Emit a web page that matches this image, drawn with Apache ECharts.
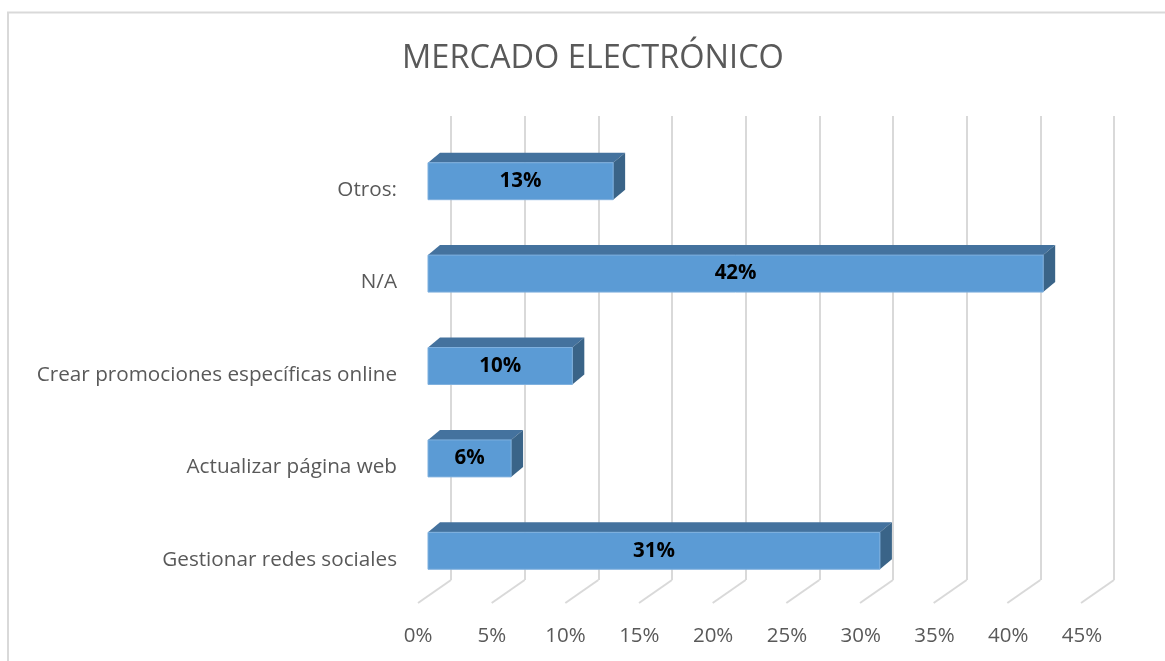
<!DOCTYPE html>
<html>
<head>
<meta charset="utf-8">
<script src="https://cdn.jsdelivr.net/npm/echarts@6/dist/echarts.min.js"></script>
<style>
  html, body { margin: 0; padding: 0; background: #fff; }
  #main { width: 1165px; height: 661px; }
</style>
</head>
<body>
<div id="main"></div>
<script>
// datos (de abajo hacia arriba, como en Excel)
var categories = ['Gestionar redes sociales', 'Actualizar página web', 'Crear promociones específicas online', 'N/A', 'Otros:'];
var values = [31.0, 5.7, 9.9, 42.2, 12.7];
var ticks = [0, 5, 10, 15, 20, 25, 30, 35, 40, 45];

var textColor = '#595959';
var gridColor = '#D9D9D9';
var fontFam = '"Open Sans", "Noto Sans", sans-serif';

// profundidad de la barra y del suelo (px)
var barDx = 12, barDy = 10;
var floorDx = -33, floorDy = 23;

var myChart = echarts.init(document.getElementById('main'));

var barData = values.map(function (v, i) { return [v, i]; });
var tickData = ticks.map(function (t) { return [t, 0]; });

var option = {
  animation: false,
  backgroundColor: '#fff',
  title: {
    text: 'MERCADO ELECTRÓNICO',
    left: 588,
    textAlign: 'center',
    top: 37,
    textStyle: { color: textColor, fontSize: 32.5, fontWeight: 'normal', fontFamily: fontFam }
  },
  graphic: [{
    type: 'rect',
    shape: { x: 8, y: 12.5, width: 1300, height: 800 },
    style: { fill: 'none', stroke: gridColor, lineWidth: 2 },
    silent: true
  }],
  grid: [
    // pared del fondo
    { left: 451, width: 663, top: 116, height: 464 },
    // plano frontal de las barras
    { left: 428, width: 656, top: 135, height: 462 },
    // borde frontal del suelo (etiquetas)
    { left: 418, width: 664, top: 144, height: 462 }
  ],
  xAxis: [
    {
      gridIndex: 0, type: 'value', min: 0, max: 45, interval: 5,
      axisLine: { show: false }, axisTick: { show: false }, axisLabel: { show: false },
      splitLine: { show: true, lineStyle: { color: gridColor, width: 2 } }
    },
    {
      gridIndex: 1, type: 'value', min: 0, max: 45, interval: 5,
      axisLine: { show: false }, axisTick: { show: false }, axisLabel: { show: false },
      splitLine: { show: false }
    },
    {
      gridIndex: 2, type: 'value', min: 0, max: 45, interval: 5,
      axisLine: { show: false }, axisTick: { show: false }, splitLine: { show: false },
      axisLabel: {
        color: textColor, fontSize: 20.5, fontFamily: fontFam, margin: 20,
        formatter: function (v) { return v + '%'; }
      }
    }
  ],
  yAxis: [
    { gridIndex: 0, type: 'category', data: categories, show: false },
    { gridIndex: 1, type: 'category', data: categories, show: false },
    {
      gridIndex: 2, type: 'category', data: categories,
      axisLine: { show: false }, axisTick: { show: false },
      axisLabel: { color: textColor, fontSize: 20.7, fontFamily: fontFam, margin: 21 }
    }
  ],
  series: [
    {
      // líneas del suelo
      type: 'custom',
      xAxisIndex: 0, yAxisIndex: 0,
      data: tickData,
      silent: true,
      renderItem: function (params, api) {
        var p = api.coord([api.value(0), 0]);
        var bottom = params.coordSys.y + params.coordSys.height;
        return {
          type: 'line',
          shape: { x1: p[0], y1: bottom, x2: p[0] + floorDx, y2: bottom + floorDy },
          style: { stroke: gridColor, lineWidth: 2 }
        };
      }
    },
    {
      type: 'custom',
      xAxisIndex: 1, yAxisIndex: 1,
      data: barData,
      encode: { x: 0, y: 1 },
      renderItem: function (params, api) {
        var v = api.value(0);
        var idx = api.value(1);
        var p0 = api.coord([0, idx]);
        var p1 = api.coord([v, idx]);
        var h = api.size([0, 1])[1] * 0.4;
        var x0 = p0[0], x1 = p1[0];
        var yt = p0[1] - h / 2, yb = p0[1] + h / 2;
        return {
          type: 'group',
          children: [
            {
              type: 'polygon',
              shape: { points: [[x0, yt], [x1, yt], [x1 + barDx, yt - barDy], [x0 + barDx, yt - barDy]] },
              style: { fill: '#44729E' }
            },
            {
              type: 'polygon',
              shape: { points: [[x1, yt], [x1 + barDx, yt - barDy], [x1 + barDx, yb - barDy], [x1, yb]] },
              style: { fill: '#3A6488' }
            },
            {
              type: 'rect',
              shape: { x: x0, y: yt, width: x1 - x0, height: h },
              style: { fill: '#5B9BD5', stroke: '#7FB0DE', lineWidth: 1 }
            },
            {
              type: 'text',
              x: (x0 + x1) / 2, y: p0[1],
              style: {
                text: Math.round(v) + '%',
                align: 'center', verticalAlign: 'middle',
                fill: '#000', fontSize: 20.5, fontWeight: 'bold', fontFamily: fontFam
              }
            }
          ]
        };
      }
    }
  ]
};

option && myChart.setOption(option);
</script>
</body>
</html>
